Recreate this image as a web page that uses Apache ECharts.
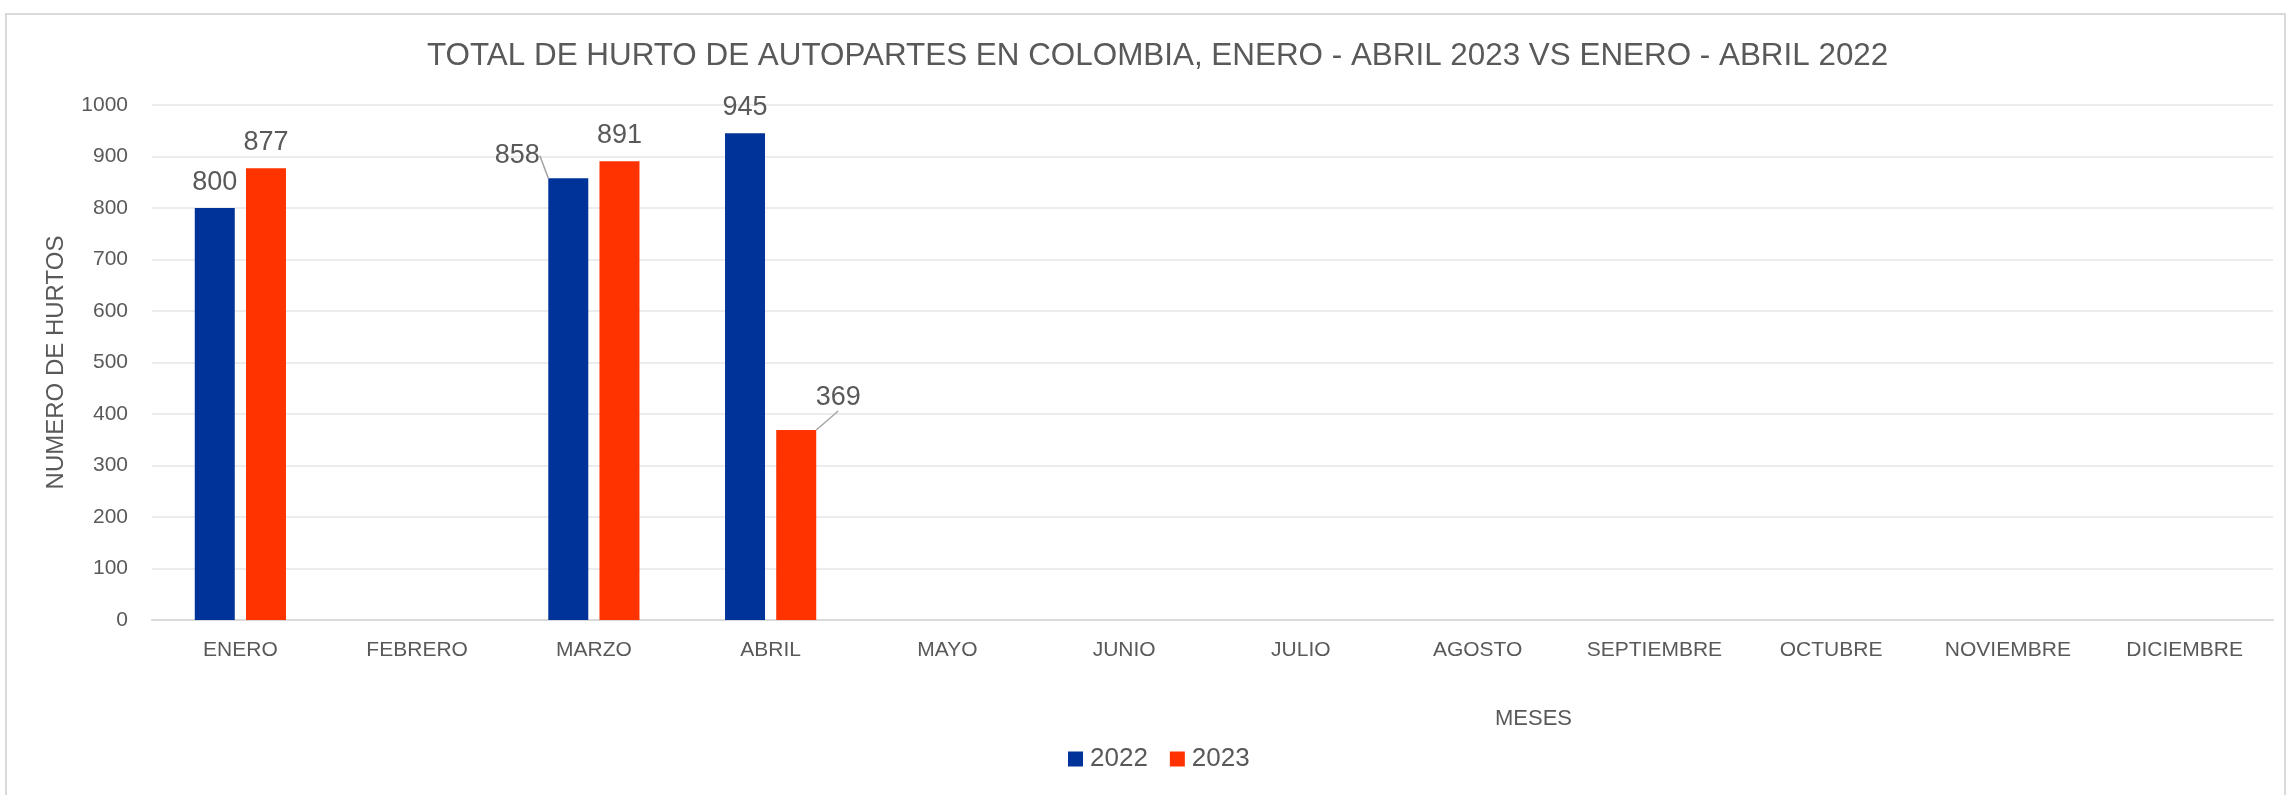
<!DOCTYPE html>
<html>
<head>
<meta charset="utf-8">
<script src="https://cdn.jsdelivr.net/npm/echarts@6/dist/echarts.min.js"></script>
<style>html,body{margin:0;padding:0;background:#fff}#c{width:2292px;height:795px}</style>
</head>
<body>
<div id="c"></div>
<script>
const titleText = 'TOTAL DE HURTO DE AUTOPARTES EN COLOMBIA, ENERO - ABRIL 2023 VS ENERO - ABRIL 2022';
const months = ['ENERO','FEBRERO','MARZO','ABRIL','MAYO','JUNIO','JULIO','AGOSTO','SEPTIEMBRE','OCTUBRE','NOVIEMBRE','DICIEMBRE'];
const seriesNames = ['2022','2023'];
const values2022 = [800, null, 858, 945, null, null, null, null, null, null, null, null];
const values2023 = [877, null, 891, 369, null, null, null, null, null, null, null, null];
const yTicks = [0,100,200,300,400,500,600,700,800,900,1000];

const FONT = '"Liberation Sans", Arial, sans-serif';
const TXT = '#595959';

// label tweaks (offsets of moved labels, like the original)
const labelMoves2022 = {2: {dx: -51, dy: 3}};
const labelMoves2023 = {3: {dx: 42, dy: -7}};

function build(vals, moves) {
  return vals.map((v, i) => {
    if (v == null) return v;
    const item = {value: v};
    if (moves[i]) {
      item.labelLine = {show: true, lineStyle: {color: '#a6a6a6', width: 1.5}};
    }
    return item;
  });
}

const chart = echarts.init(document.getElementById('c'), null, {renderer: 'canvas'});
chart.setOption({
  animation: false,
  backgroundColor: '#ffffff',
  textStyle: {fontFamily: FONT},
  graphic: [{
    type: 'rect', shape: {x: 6, y: 14, width: 2279, height: 800},
    style: {fill: 'none', stroke: '#d9d9d9', lineWidth: 2}, silent: true, z: -1
  }],
  title: {
    text: titleText, left: 422, top: 36,
    textStyle: {fontFamily: FONT, fontSize: 31.4, fontWeight: 'normal', color: TXT}
  },
  legend: {
    data: seriesNames, bottom: 18, left: 1063, itemWidth: 15, itemHeight: 15,
    itemGap: 22, icon: 'rect',
    textStyle: {fontFamily: FONT, fontSize: 26, color: TXT, padding: [0, 0, 0, 2]}
  },
  grid: {left: 152, right: 19, top: 105, bottom: 175},
  xAxis: {
    type: 'category', data: months,
    name: 'MESES', nameLocation: 'middle', nameGap: 88,
    nameTextStyle: {fontFamily: FONT, fontSize: 22, color: TXT, padding: [0, 0, 0, 642]},
    axisLine: {lineStyle: {color: '#d9d9d9', width: 2}},
    axisTick: {show: false},
    axisLabel: {fontFamily: FONT, fontSize: 21, color: TXT, margin: 20}
  },
  yAxis: {
    type: 'value', min: 0, max: 1000, interval: 100,
    name: 'NUMERO DE HURTOS', nameLocation: 'middle', nameGap: 84, nameRotate: 90,
    nameTextStyle: {fontFamily: FONT, fontSize: 24, color: TXT},
    axisLine: {show: false}, axisTick: {show: false},
    axisLabel: {fontFamily: FONT, fontSize: 21, color: TXT, margin: 24,
      formatter: v => yTicks.includes(v) ? String(v) : ''},
    splitLine: {lineStyle: {color: '#ececec', width: 2}}
  },
  series: [
    {
      name: seriesNames[0], type: 'bar', data: build(values2022, labelMoves2022),
      barWidth: 40, barGap: '28%',
      itemStyle: {color: '#003399'},
      label: {show: true, position: 'top', distance: 12, fontFamily: FONT, fontSize: 27, color: TXT},
      labelLayout: p => {
        const m = labelMoves2022[p.dataIndex];
        return m ? {dx: m.dx, dy: m.dy} : {};
      }
    },
    {
      name: seriesNames[1], type: 'bar', data: build(values2023, labelMoves2023),
      barWidth: 40,
      itemStyle: {color: '#ff3300'},
      label: {show: true, position: 'top', distance: 12, fontFamily: FONT, fontSize: 27, color: TXT},
      labelLayout: p => {
        const m = labelMoves2023[p.dataIndex];
        return m ? {dx: m.dx, dy: m.dy} : {};
      }
    }
  ]
});
</script>
</body>
</html>
